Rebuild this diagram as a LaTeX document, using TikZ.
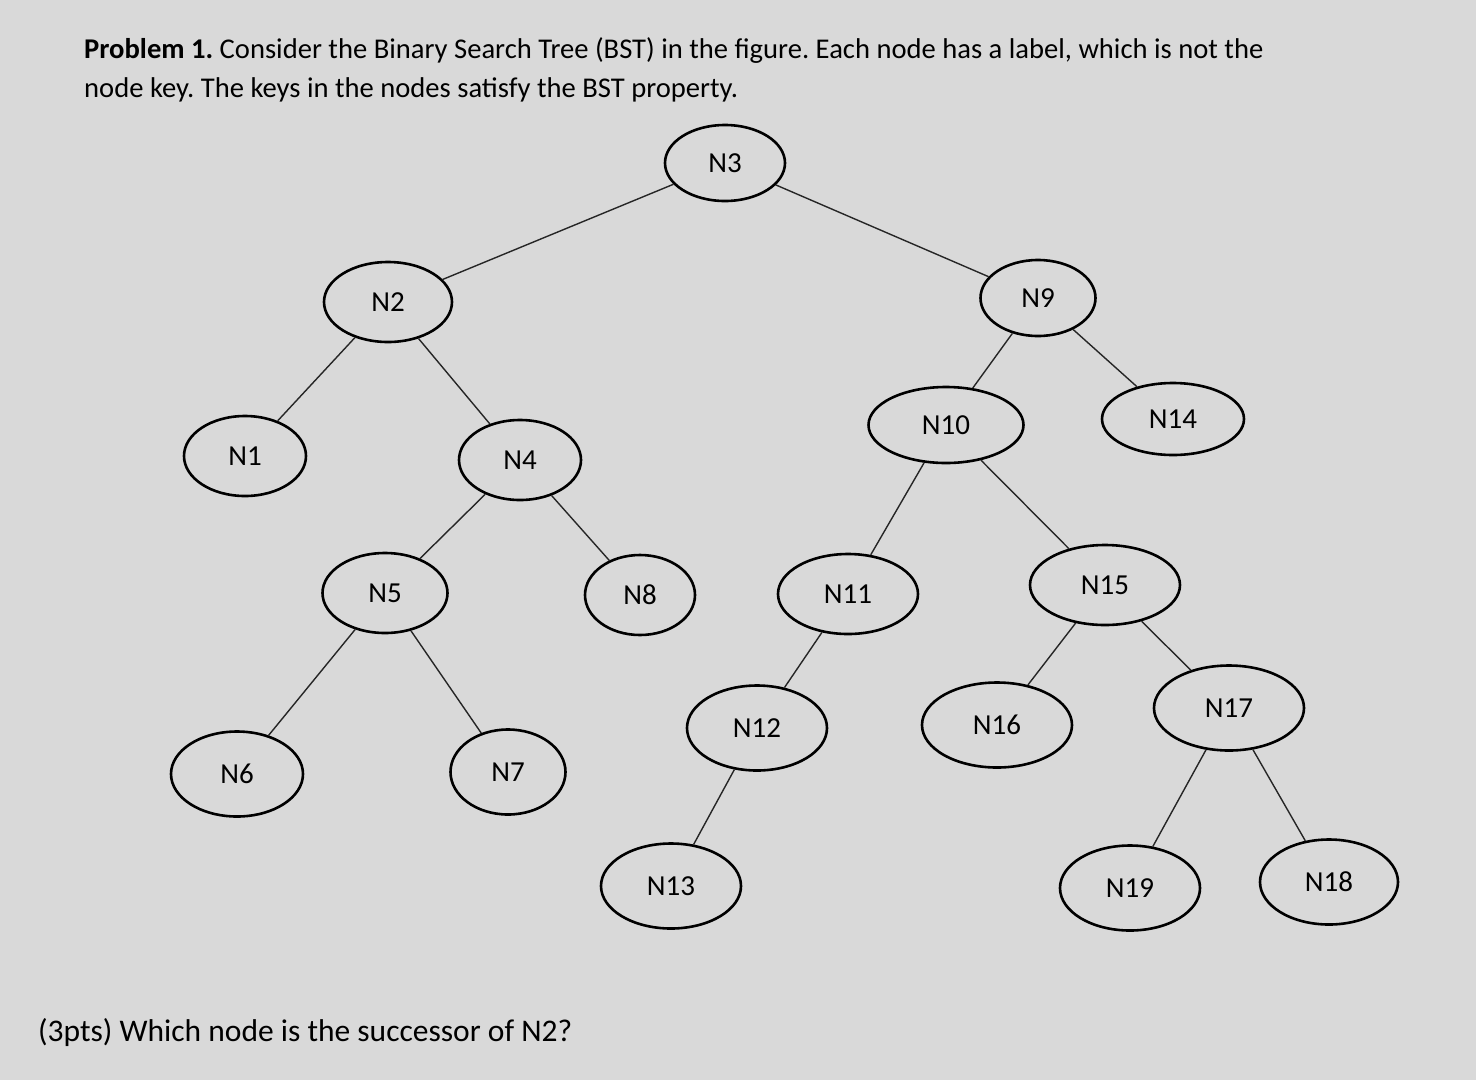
\documentclass[tikz,border=0pt]{standalone}
\usepackage{fontspec}
\setmainfont{Carlito}
\usetikzlibrary{shapes.geometric}
\definecolor{paper}{HTML}{D9D9D9}
\frenchspacing
\tikzset{
  bst/.style 2 args={ellipse, draw=black, line width=2.6pt, minimum width=#1pt, minimum height=#2pt, inner sep=0pt, font=\fontsize{29}{34}\selectfont},
  edge/.style={draw=black!85, line width=1.4pt},
  txt/.style={anchor=base west, inner sep=0pt, font=\fontsize{28.6}{34}\selectfont},
  qtxt/.style={anchor=base west, inner sep=0pt, font=\fontsize{31.5}{36}\selectfont}
}
\begin{document}
\begin{tikzpicture}[x=1pt,y=-1pt]
\fill[paper] (0,0) rectangle (1476,1080);
\useasboundingbox (0,0) rectangle (1476,1080);
\node[txt] (t1) at (84,58) {\textbf{Problem 1.} Consider the Binary Search Tree (BST) in the figure. Each node has a label, which is not the};
\node[txt] (t2) at (84,97) {node key. The keys in the nodes satisfy the BST property.};
\node[qtxt] (t3) at (38,1041) {(3pts) Which node is the successor of N2?};

\node[bst={120}{76}] (n3) at (725,163) {N3};
\node[bst={128}{80}] (n2) at (388,302) {N2};
\node[bst={115}{76}] (n9) at (1038,298) {N9};
\node[bst={122}{80}] (n1) at (245,456) {N1};
\node[bst={122}{80}] (n4) at (520,460) {N4};
\node[bst={155}{76}] (n10) at (946,425) {N10};
\node[bst={142}{72}] (n14) at (1173,419) {N14};
\node[bst={125}{80}] (n5) at (385,593) {N5};
\node[bst={110}{80}] (n8) at (640,595) {N8};
\node[bst={140}{80}] (n11) at (848,594) {N11};
\node[bst={150}{80}] (n15) at (1105,585) {N15};
\node[bst={140}{85}] (n12) at (757,728) {N12};
\node[bst={150}{85}] (n16) at (997,725) {N16};
\node[bst={150}{85}] (n17) at (1229,708) {N17};
\node[bst={132}{85}] (n6) at (237,774) {N6};
\node[bst={115}{85}] (n7) at (508,772) {N7};
\node[bst={140}{85}] (n13) at (671,886) {N13};
\node[bst={140}{85}] (n19) at (1130,888) {N19};
\node[bst={138}{85}] (n18) at (1329,882) {N18};

\draw[edge] (n3) -- (n2);
\draw[edge] (n3) -- (n9);
\draw[edge] (n2) -- (n1);
\draw[edge] (n2) -- (n4);
\draw[edge] (n4) -- (n5);
\draw[edge] (n4) -- (n8);
\draw[edge] (n5) -- (n6);
\draw[edge] (n5) -- (n7);
\draw[edge] (n9) -- (n10);
\draw[edge] (n9) -- (n14);
\draw[edge] (n10) -- (n11);
\draw[edge] (n10) -- (n15);
\draw[edge] (n11) -- (n12);
\draw[edge] (n12) -- (n13);
\draw[edge] (n15) -- (n16);
\draw[edge] (n15) -- (n17);
\draw[edge] (n17) -- (n19);
\draw[edge] (n17) -- (n18);
\end{tikzpicture}
\end{document}
